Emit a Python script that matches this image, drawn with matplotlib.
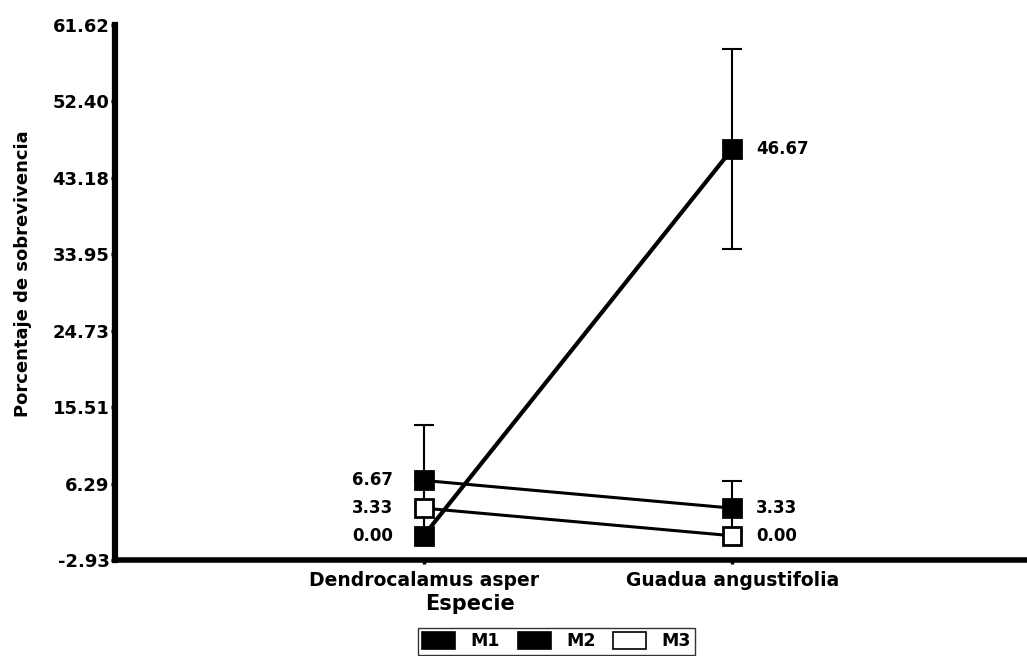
import numpy as np
import matplotlib.pyplot as plt
from matplotlib.patches import Patch

plt.rcParams['font.family'] = ['DejaVu Sans']
plt.rcParams['font.weight'] = 'bold'

# datos
especies = ["Dendrocalamus asper", "Guadua angustifolia"]
series = ["M1", "M2", "M3"]
m1 = [0.00, 46.67]
m2 = [6.67, 3.33]
m3 = [3.33, 0.00]
m1_err = [0.00, 12.02]
m2_err = [6.67, 3.33]
m3_err = [3.33, 0.00]
yticks = [-2.93, 6.29, 15.51, 24.73, 33.95, 43.18, 52.40, 61.62]
ytick_labels = ["-2.93", "6.29", "15.51", "24.73", "33.95", "43.18", "52.40", "61.62"]

fig = plt.figure(figsize=(10.27, 6.56), dpi=100)
ax = fig.add_axes([0.112, 0.1463, 0.888, 0.8156])

x = np.arange(1, len(especies) + 1)

valores = [m1, m2, m3]
errores = [m1_err, m2_err, m3_err]
colores = ["black", "black", "white"]
grosores = [3.0, 2.2, 2.2]

for vals, errs in zip(valores, errores):
    ax.errorbar(x, vals, yerr=errs, fmt="none", ecolor="black",
                elinewidth=1.5, capsize=7, capthick=1.5, zorder=2)
for vals, col, lw, nombre in zip(valores, colores, grosores, series):
    ax.plot(x, vals, color="black", lw=lw, marker="s", markersize=13,
            markerfacecolor=col, markeredgecolor="black", markeredgewidth=2,
            zorder=3, label=nombre)

# etiquetas de los valores
for vals in valores:
    ax.annotate(f"{vals[0]:.2f}", (x[0], vals[0]), xytext=(-22, 0),
                textcoords="offset points", ha="right", va="center",
                fontsize=12, fontweight="bold")
    ax.annotate(f"{vals[1]:.2f}", (x[1], vals[1]), xytext=(17, 0),
                textcoords="offset points", ha="left", va="center",
                fontsize=12, fontweight="bold")

ax.set_xlim(0, 2.955)
ax.set_ylim(yticks[0], yticks[-1])
ax.set_yticks(yticks)
ax.set_yticklabels(ytick_labels, fontsize=13, fontweight="bold")
ax.set_xticks(x)
ax.set_xticklabels(especies, fontsize=13.5, fontweight="bold")

for s in ["top", "right"]:
    ax.spines[s].set_visible(False)
ax.spines["left"].set_linewidth(4.5)
ax.spines["bottom"].set_linewidth(4.0)
ax.tick_params(axis="y", direction="out", length=3, width=2.5, pad=1)
ax.tick_params(axis="x", direction="out", length=3, width=2.5, pad=5)

ax.set_ylabel("Porcentaje de sobrevivencia", fontsize=13, fontweight="bold")
ax.yaxis.set_label_coords(-0.091, 0.535)
fig.text(0.458, 0.079, "Especie", ha="center", va="center",
         fontsize=15, fontweight="bold")

handles = [Patch(facecolor=c, edgecolor="black", lw=1.2) for c in colores]
fig.legend(handles, series, loc="upper center", bbox_to_anchor=(0.542, 0.043),
           ncol=3, frameon=True, fancybox=False, edgecolor="black",
           fontsize=12.5, handlelength=1.9, handleheight=1.1,
           columnspacing=1.0, handletextpad=0.9, borderpad=0.25,
           borderaxespad=0)

fig.savefig("out.png", dpi=100)
